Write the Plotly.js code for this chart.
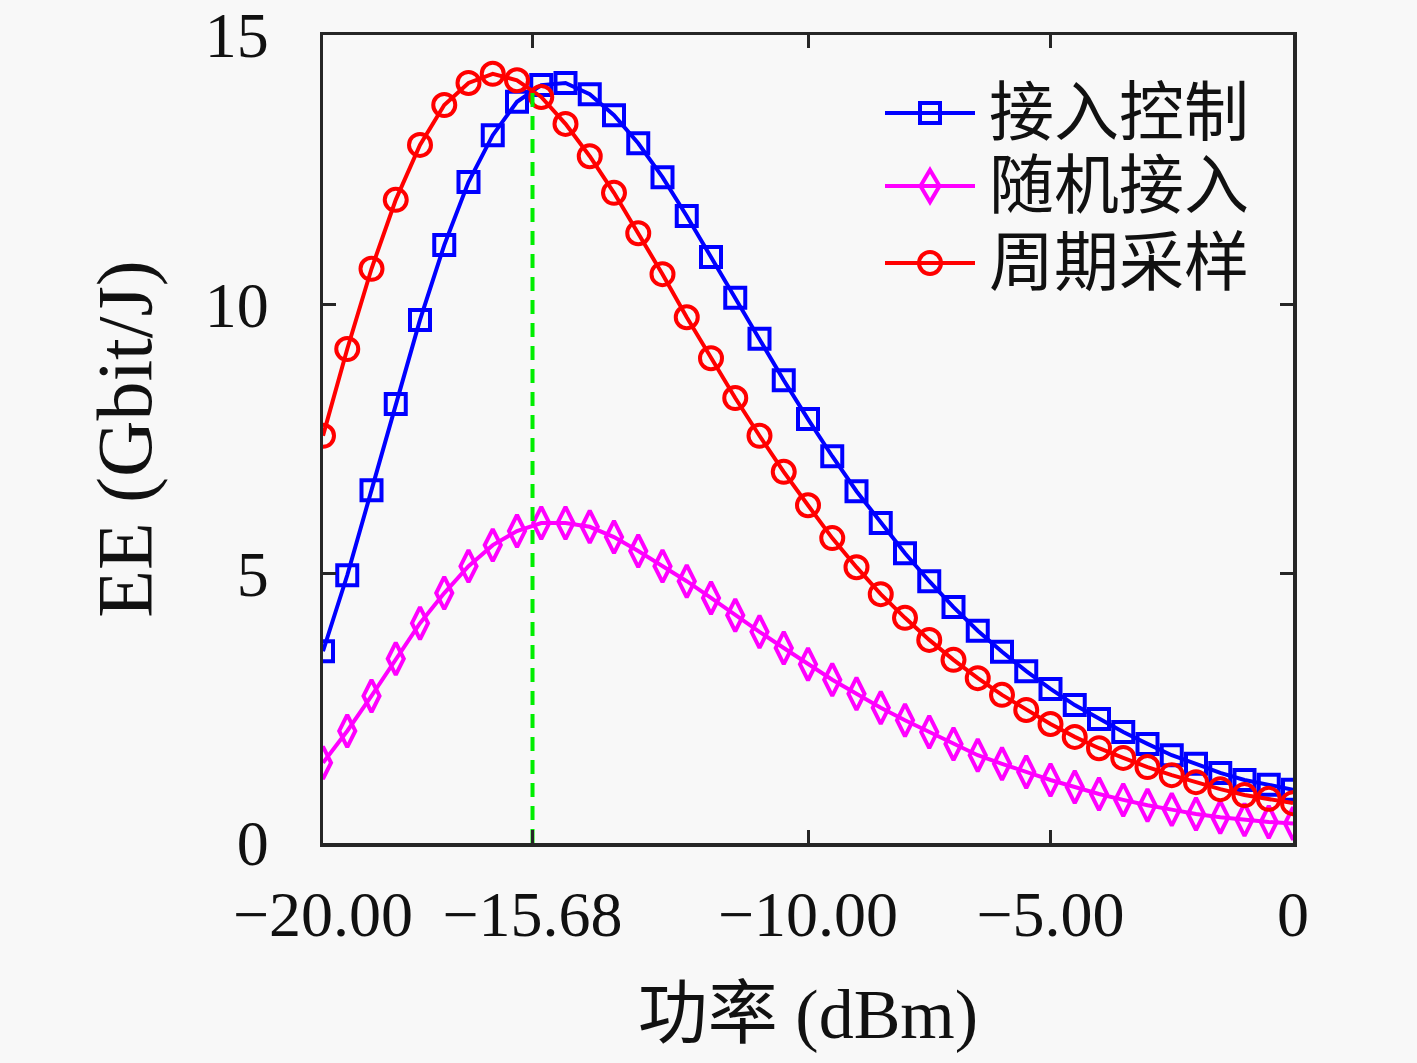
<!DOCTYPE html>
<html>
<head>
<meta charset="utf-8">
<script src="https://cdn.plot.ly/plotly-3.0.1.min.js"></script>
<style>
html,body{margin:0;padding:0;background:#f8f8f8;}
#chart{width:1417px;height:1063px;}
</style>
</head>
<body>
<div id="chart"></div>
<script>
// ---- data ----
var powerDbm = [-20,-19.5,-19,-18.5,-18,-17.5,-17,-16.5,-16,-15.5,-15,-14.5,-14,-13.5,-13,-12.5,-12,-11.5,-11,-10.5,-10,-9.5,-9,-8.5,-8,-7.5,-7,-6.5,-6,-5.5,-5,-4.5,-4,-3.5,-3,-2.5,-2,-1.5,-1,-0.5,0];

var accessControl = [3.56,4.97,6.55,8.15,9.71,11.10,12.27,13.14,13.76,14.07,14.11,13.90,13.51,12.99,12.36,11.64,10.88,10.12,9.36,8.59,7.87,7.18,6.53,5.94,5.38,4.86,4.38,3.94,3.55,3.19,2.86,2.56,2.30,2.06,1.84,1.63,1.47,1.30,1.17,1.08,0.99];

var randomAccess = [1.49,2.08,2.73,3.42,4.08,4.64,5.14,5.53,5.79,5.94,5.94,5.87,5.68,5.42,5.14,4.86,4.55,4.23,3.92,3.62,3.32,3.03,2.77,2.51,2.28,2.06,1.84,1.63,1.47,1.32,1.17,1.04,0.91,0.80,0.70,0.62,0.54,0.48,0.43,0.39,0.36];

var periodicSampling = [7.56,9.17,10.66,11.94,12.96,13.70,14.11,14.28,14.16,13.85,13.35,12.75,12.07,11.32,10.56,9.76,9.00,8.26,7.56,6.89,6.27,5.66,5.12,4.62,4.18,3.77,3.40,3.06,2.75,2.47,2.21,1.97,1.76,1.58,1.41,1.26,1.13,1.00,0.89,0.82,0.74];

var optimalX = [-15.68,-15.68];
var optimalY = [0,13.96];

var seriesNames = ['接入控制','随机接入','周期采样'];
var xTickVals = [-20,-15.68,-10,-5,0];
var xTickText = ['\u221220.00','\u221215.68','\u221210.00','\u22125.00','0'];
var yTickVals = [0,5,10,15];
var yTickText = ['0','5','10','15'];

// ---- styles ----
var BLUE='#0000ff', MAG='#ff00ff', RED='#ff0000', GREEN='#00ee00';
var AXC='#262626';
var SERIF='"Liberation Serif","Noto Sans CJK SC",serif';
var LW=4;

var traces = [
  {x:powerDbm, y:accessControl, name:seriesNames[0], type:'scatter', mode:'lines+markers',
   line:{color:BLUE,width:LW}, marker:{symbol:'square-open',size:20,color:BLUE,line:{width:LW,color:BLUE}}, showlegend:false},
  {x:powerDbm, y:randomAccess, name:seriesNames[1], type:'scatter', mode:'lines+markers',
   line:{color:MAG,width:LW}, marker:{symbol:'diamond-tall-open',size:23,color:MAG,line:{width:LW,color:MAG}}, showlegend:false},
  {x:powerDbm, y:periodicSampling, name:seriesNames[2], type:'scatter', mode:'lines+markers',
   line:{color:RED,width:LW}, marker:{symbol:'circle-open',size:22,color:RED,line:{width:LW,color:RED}}, showlegend:false},
  {x:optimalX, y:optimalY, type:'scatter', mode:'lines', line:{color:GREEN,width:LW,dash:'14px,9px'}, showlegend:false, hoverinfo:'skip'}
];

// custom legend (pixel -> plot-fraction helpers)
var L=323, R=1293, T=35, B=843;
function fx(px){return (px-L)/(R-L);}
function fy(py){return (B-py)/(B-T);}
var legRows=[113,186,263];
var shapes=[];
var annotations=[];
var legColors=[BLUE,MAG,RED];
for (var i=0;i<3;i++){
  var cy=legRows[i];
  shapes.push({type:'line',xref:'paper',yref:'paper',x0:fx(885),x1:fx(975),y0:fy(cy),y1:fy(cy),line:{color:legColors[i],width:LW}});
  annotations.push({xref:'paper',yref:'paper',x:fx(987),y:fy(cy),xanchor:'left',yanchor:'middle',showarrow:false,
    text:seriesNames[i],font:{family:SERIF,size:65,color:'#111111'}});
}
// legend markers
shapes.push({type:'rect',xref:'paper',yref:'paper',x0:fx(920),x1:fx(940),y0:fy(legRows[0]-10),y1:fy(legRows[0]+10),line:{color:BLUE,width:LW},fillcolor:'rgba(0,0,0,0)'});
(function(){var cx=930,cy=legRows[1],w=9.5,h=16;
  var p='M'+fx(cx)+','+fy(cy-h)+' L'+fx(cx+w)+','+fy(cy)+' L'+fx(cx)+','+fy(cy+h)+' L'+fx(cx-w)+','+fy(cy)+' Z';
  shapes.push({type:'path',xref:'paper',yref:'paper',path:p,line:{color:MAG,width:LW},fillcolor:'rgba(0,0,0,0)'});})();
shapes.push({type:'circle',xref:'paper',yref:'paper',x0:fx(919),x1:fx(941),y0:fy(legRows[2]-11),y1:fy(legRows[2]+11),line:{color:RED,width:LW},fillcolor:'rgba(0,0,0,0)'});

var layout = {
  width:1417, height:1063,
  paper_bgcolor:'#f8f8f8', plot_bgcolor:'#f8f8f8',
  margin:{l:L, r:1417-R, t:T, b:1063-B},
  showlegend:false,
  font:{family:SERIF,color:'#111111'},
  xaxis:{
    range:[-20,0], tickmode:'array', tickvals:xTickVals, ticktext:xTickText,
    ticks:'inside', ticklen:13, tickwidth:3, tickcolor:AXC,
    showline:true, linecolor:AXC, linewidth:3.5, mirror:'ticks',
    showgrid:false, zeroline:false,
    tickfont:{family:SERIF,size:64,color:'#111111'},
    ticklabelstandoff:13,
    title:{text:'功率 (dBm)', font:{family:SERIF,size:70,color:'#111111'}, standoff:40},
    automargin:false
  },
  yaxis:{
    range:[0,15], tickmode:'array', tickvals:yTickVals, ticktext:yTickText,
    ticks:'inside', ticklen:13, tickwidth:3, tickcolor:AXC,
    showline:true, linecolor:AXC, linewidth:3.5, mirror:'ticks',
    showgrid:false, zeroline:false,
    tickfont:{family:SERIF,size:64,color:'#111111'},
    ticklabelstandoff:38,
    title:{text:'EE (Gbit/J)', font:{family:SERIF,size:78,color:'#111111'}, standoff:28},
    automargin:false
  },
  shapes:shapes,
  annotations:annotations
};

Plotly.newPlot('chart', traces, layout, {displayModeBar:false, staticPlot:true});
</script>
</body>
</html>
